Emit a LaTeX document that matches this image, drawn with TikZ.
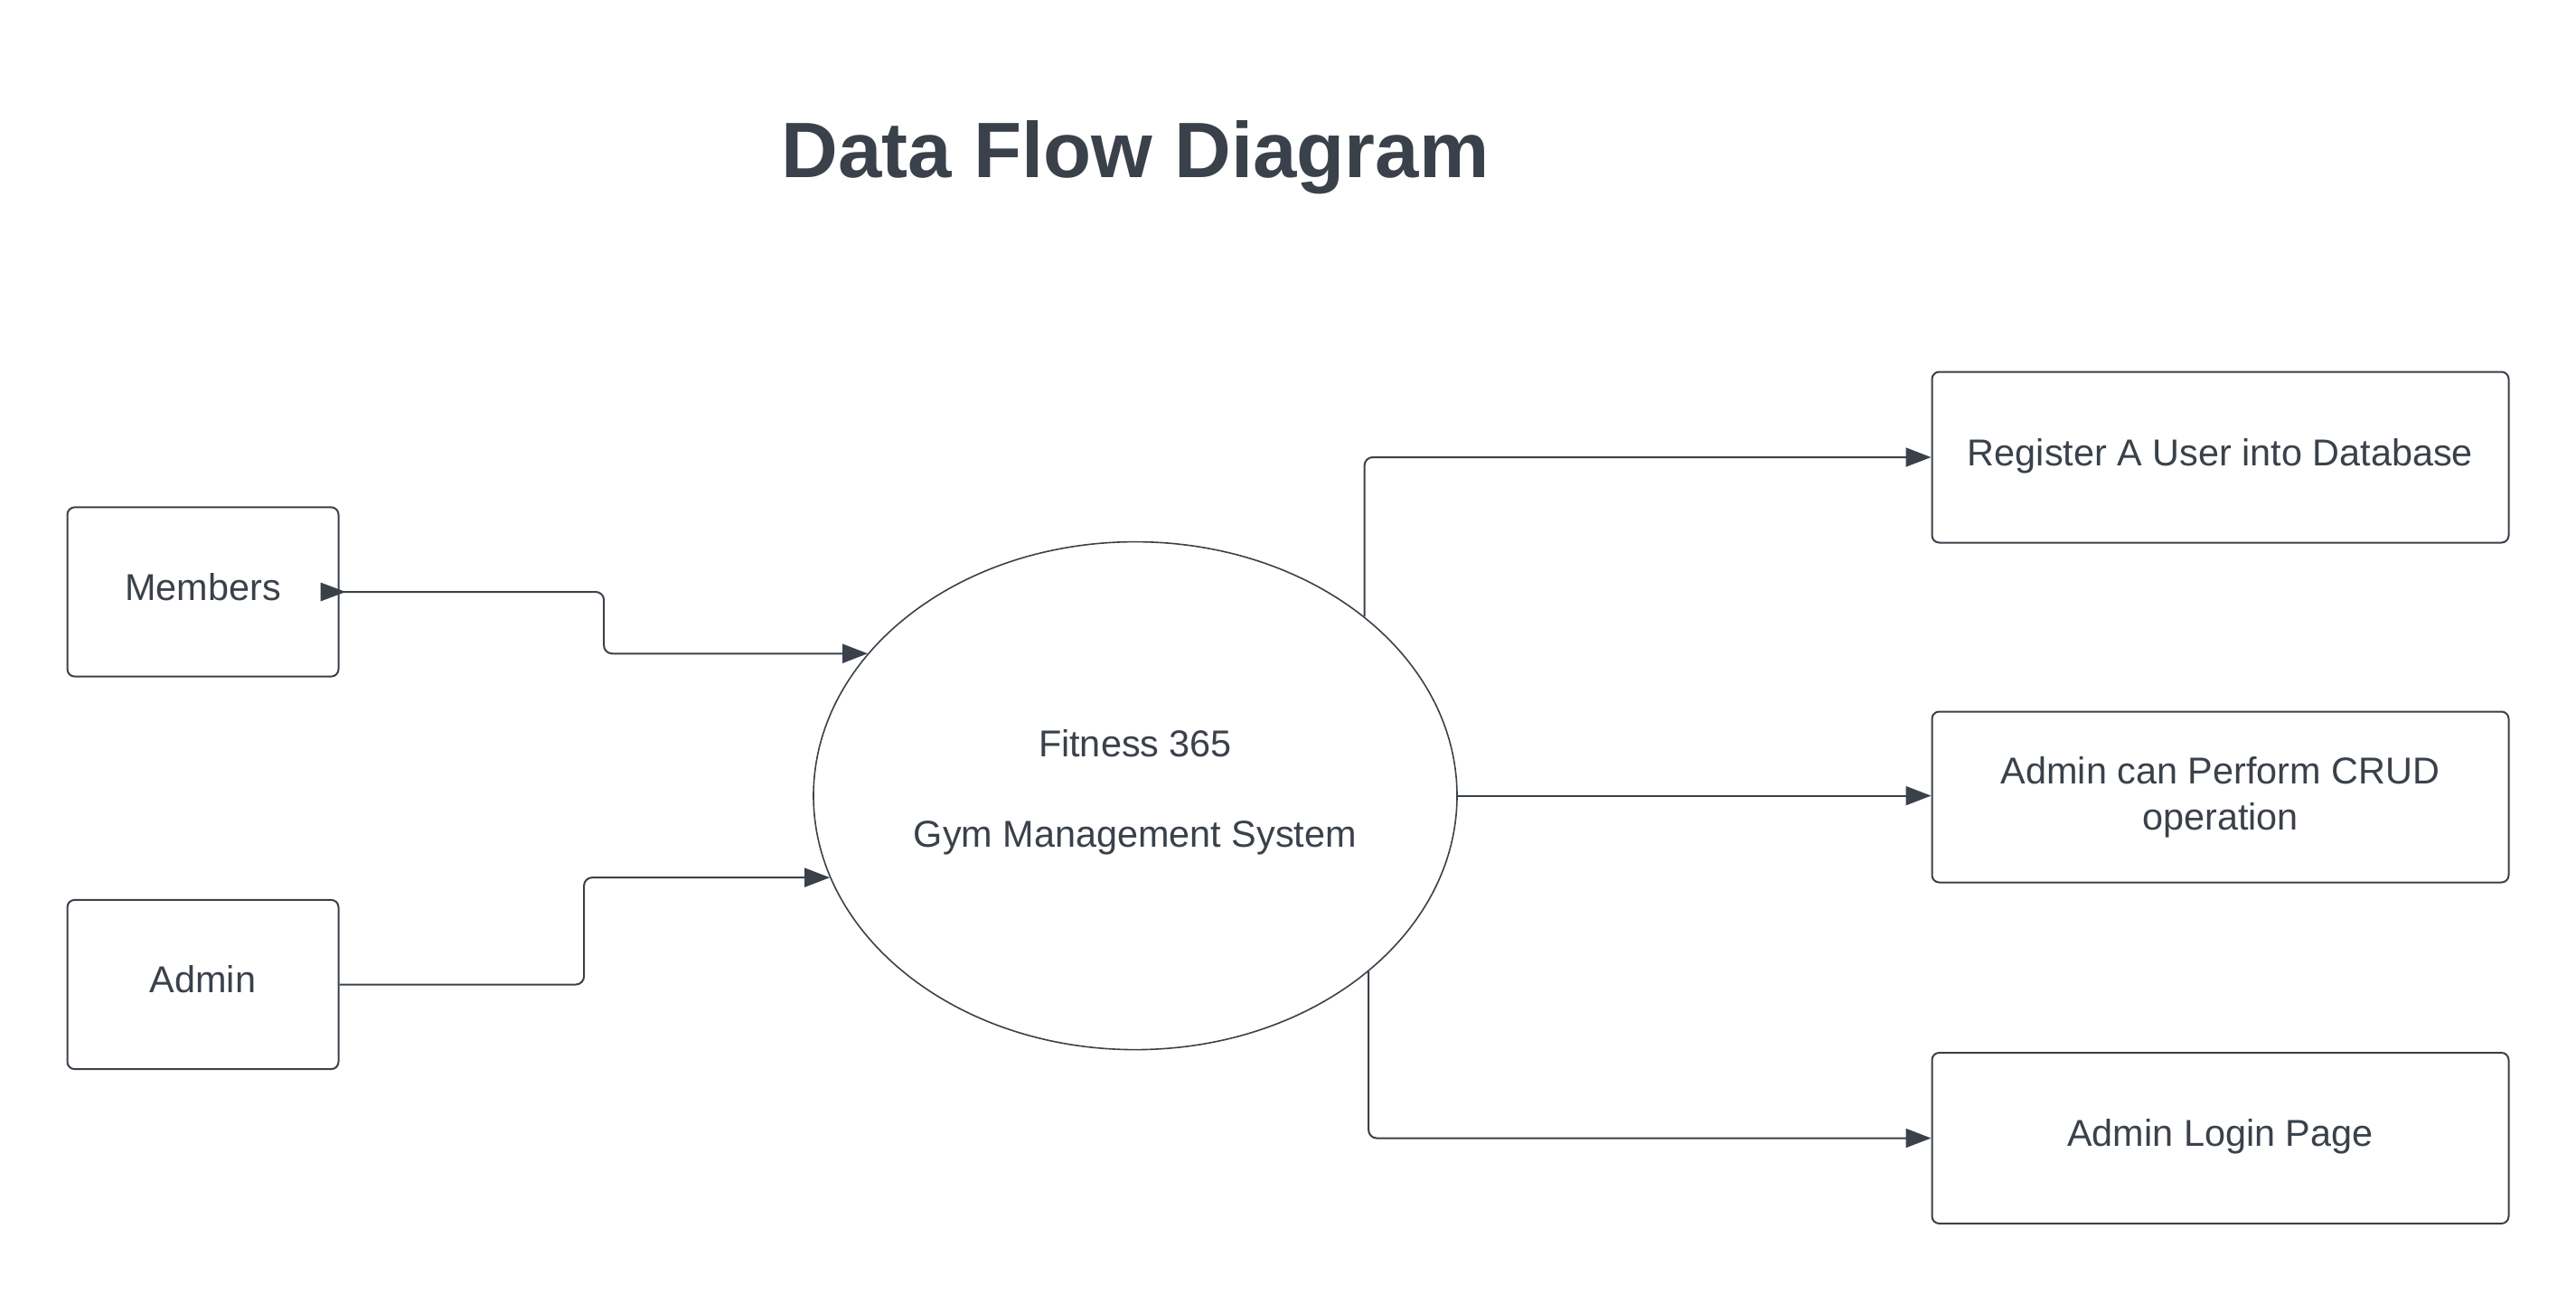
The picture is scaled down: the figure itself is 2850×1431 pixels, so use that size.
\documentclass[tikz,border=0pt]{standalone}
\usepackage{fontspec}
\setmainfont{Liberation Sans}
\usetikzlibrary{arrows.meta,shapes.geometric,calc}
\definecolor{ink}{RGB}{58,65,74}
\begin{document}
\begin{tikzpicture}[x=0.5pt,y=-0.5pt,
  txt/.style={font=\fontsize{20.7pt}{25.4pt}\selectfont, text=ink, align=center},
  oneline/.style={text height=14.8pt, text depth=5.5pt},
  leftbox/.style={draw=ink, line width=1pt, rounded corners=4pt, minimum width=150pt, minimum height=93.6pt, inner sep=0pt, txt},
  rightbox/.style={draw=ink, line width=1pt, rounded corners=4pt, minimum width=319pt, minimum height=94.5pt, inner sep=0pt, txt},
  conn/.style={draw=ink, line width=1pt, rounded corners=4.5pt, -{Triangle[length=14pt,width=10.5pt]}}]
\useasboundingbox (0,0) rectangle (2850,1431);

\node[font=\fontsize{43.5pt}{50pt}\selectfont\bfseries, text=ink] (title) at (1256,174) {Data Flow Diagram};

\node[leftbox, oneline] (mem) at (224.5,655) {Members};
\node[leftbox, oneline] (adm) at (224.5,1089.5) {Admin};

\node[ellipse, draw=ink, line width=0.8pt, minimum width=356pt, minimum height=281pt, inner sep=0pt] (ell) at (1256,880.6) {};
\node[txt] (elltext) at (1256,876.6) {Fitness 365\\[24.6pt]Gym Management System};

\node[rightbox, oneline] (reg) at (2456.5,506) {Register A User into Database};
\node[rightbox] (crud) at (2456.5,882) {Admin can Perform CRUD\\operation};
\node[rightbox, oneline] (login) at (2456.5,1259.5) {Admin Login Page};

% connectors
\draw[conn] (mem.east) -- ++(146.3pt,0pt) |- (ell.152.6);
\fill[ink] ([xshift=3.5pt]mem.east) -- ++(-14pt,5.25pt) -- ++(0pt,-10.5pt) -- cycle;
\draw[conn] (adm.east) -- ++(135.3pt,0pt) |- (ell.195.4);
\draw[conn] (ell.38.09) |- (reg.west);
\draw[conn] (ell.east) -- (ell.east -| crud.west);
\draw[conn] (ell.-37.34) |- (login.west);
\end{tikzpicture}
\end{document}
